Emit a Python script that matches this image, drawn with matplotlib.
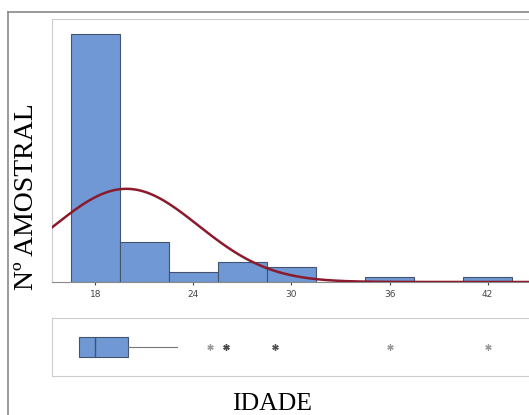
import matplotlib
matplotlib.use("Agg")
import matplotlib.pyplot as plt
from matplotlib.lines import Line2D
import numpy as np

# Dados (idade x número amostral)
centros_classes = [18, 21, 24, 27, 30, 33, 36, 39, 42]
contagens = [50, 8, 2, 4, 3, 0, 1, 0, 1]
largura_classe = 3

# Curva normal ajustada
media_idade = 19.9
desvio_idade = 4.4

# Boxplot
q1_idade = 17
mediana_idade = 18
q3_idade = 20
minimo_idade = 17
bigode_sup = 23
outliers = [25, 26, 26, 26, 26, 29, 29, 29, 36, 42]

ticks_x = [18, 24, 30, 36, 42]

cor_barra = '#6f98d4'
cor_borda = '#44546e'
cor_curva = '#8b1a2c'

fig = plt.figure(figsize=(5.29, 4.15), dpi=100)

# moldura externa
fig.add_artist(Line2D([0.0151, 0.0151], [0, 0.971], color='#8a8a8a', lw=1.2))
fig.add_artist(Line2D([0.0151, 1.0], [0.971, 0.971], color='#8a8a8a', lw=1.2))

xmin, xmax = 15.35, 44.8

# histograma
ax = fig.add_axes([0.0983, 0.3205, 0.91, 0.634])
ax.bar(centros_classes, contagens, width=largura_classe, color=cor_barra,
       edgecolor=cor_borda, linewidth=0.8, zorder=2)
xs = np.linspace(xmin, xmax, 400)
n_total = sum(contagens)
ys = n_total * largura_classe * np.exp(-0.5 * ((xs - media_idade) / desvio_idade) ** 2) / (desvio_idade * np.sqrt(2 * np.pi))
ax.plot(xs, ys, color=cor_curva, lw=1.8, zorder=3)
ax.set_xlim(xmin, xmax)
ax.set_ylim(0, 53)
ax.set_xticks(ticks_x)
ax.set_yticks([])
ax.tick_params(axis='x', labelsize=6.5, colors='#444444', length=2, pad=4)
for lado in ['left', 'top']:
    ax.spines[lado].set_color('#cccccc')
ax.spines['bottom'].set_color('#8a8a8a')
ax.spines['right'].set_visible(False)

# boxplot
axb = fig.add_axes([0.0983, 0.094, 0.91, 0.1398])
stats = [{'med': mediana_idade, 'q1': q1_idade, 'q3': q3_idade,
          'whislo': minimo_idade, 'whishi': bigode_sup, 'fliers': outliers}]
axb.bxp(stats, positions=[0.5], widths=0.355, vert=False, patch_artist=True,
        showcaps=False,
        boxprops=dict(facecolor=cor_barra, edgecolor=cor_borda, linewidth=0.8),
        medianprops=dict(color=cor_borda, linewidth=1),
        whiskerprops=dict(color='#777777', linewidth=0.8),
        flierprops=dict(marker=(6, 2, 0), markersize=4.5, markeredgecolor='#444444',
                        markeredgewidth=0.9, alpha=0.55, linestyle='none'))
axb.set_xlim(xmin, xmax)
axb.set_ylim(0, 1)
axb.set_xticks([])
axb.set_yticks([])
for lado in ['left', 'top', 'bottom']:
    axb.spines[lado].set_color('#cccccc')
axb.spines['right'].set_visible(False)

# rótulos
fig.text(0.051, 0.5265, 'Nº AMOSTRAL', rotation=90, ha='center', va='center',
         family='Liberation Serif', fontsize=20)
fig.text(0.514, 0.0265, 'IDADE', ha='center', va='center',
         family='Liberation Serif', fontsize=18.5)

fig.savefig('out.png', dpi=100)
